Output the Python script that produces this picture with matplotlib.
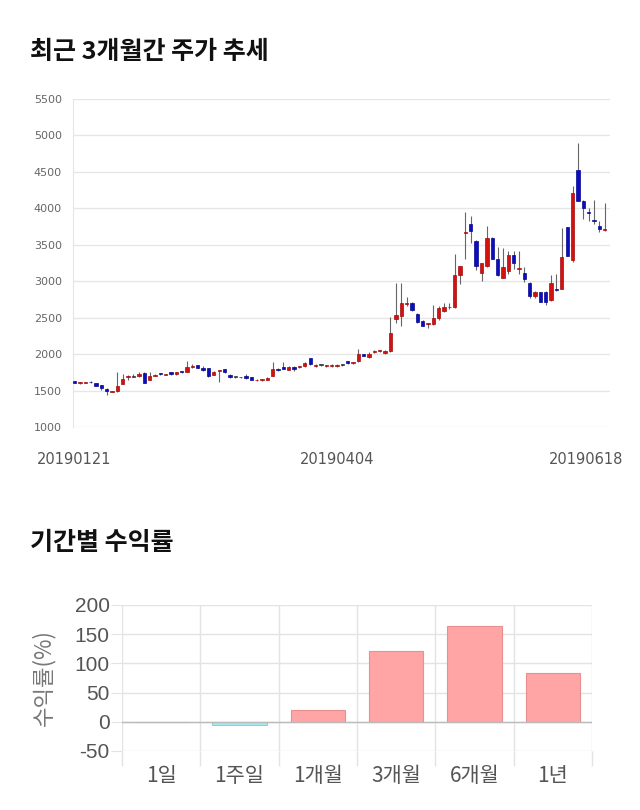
import matplotlib
matplotlib.use("Agg")
import matplotlib.pyplot as plt
import matplotlib.transforms as mtransforms
import numpy as np

plt.rcParams['font.family'] = ['Noto Sans CJK KR', 'DejaVu Sans']
plt.rcParams['axes.unicode_minus'] = False

# ---------------- data ----------------
dates_labels = ["20190121", "20190404", "20190618"]
label_idx = [0, 49, 99]

opens = [1625, 1600, 1610, 1622, 1600, 1575, 1525, 1480, 1490, 1590,
         1690, 1692, 1700, 1735, 1650, 1705, 1740, 1720, 1750, 1728,
         1765, 1760, 1820, 1845, 1810, 1810, 1720, 1775, 1790, 1720,
         1682, 1680, 1695, 1680, 1638, 1640, 1650, 1700, 1800, 1820,
         1785, 1822, 1828, 1835, 1945, 1840, 1850, 1838, 1840, 1840,
         1850, 1900, 1880, 1900, 1995, 1955, 2030, 2040, 2020, 2040,
         2485, 2520, 2690, 2705, 2555, 2450, 2410, 2415, 2500, 2590,
         2640, 2645, 3090, 3665, 3785, 3550, 3110, 3215, 3590, 3310,
         3050, 3140, 3360, 3165, 3110, 2980, 2795, 2850, 2850, 2740,
         2895, 2895, 3740, 3285, 4530, 4105, 3945, 3830, 3755, 3700]
highs = [1630, 1615, 1620, 1628, 1605, 1580, 1530, 1500, 1750, 1730,
         1720, 1730, 1760, 1750, 1750, 1730, 1745, 1730, 1755, 1760,
         1775, 1910, 1870, 1850, 1840, 1815, 1770, 1785, 1795, 1730,
         1690, 1690, 1730, 1685, 1660, 1660, 1690, 1890, 1810, 1890,
         1840, 1840, 1840, 1895, 1950, 1860, 1860, 1850, 1860, 1860,
         1865, 1905, 1890, 2070, 2000, 2030, 2050, 2060, 2050, 2510,
         2980, 2970, 2780, 2720, 2560, 2470, 2430, 2680, 2660, 2700,
         2700, 3380, 3210, 3955, 3900, 3560, 3250, 3760, 3600, 3470,
         3450, 3420, 3420, 3420, 3200, 2990, 2870, 2850, 2860, 3080,
         3100, 3735, 3750, 4300, 4900, 4110, 4000, 4110, 3830, 4070]
lows = [1600, 1590, 1600, 1605, 1560, 1510, 1440, 1475, 1485, 1585,
        1640, 1680, 1690, 1600, 1640, 1700, 1715, 1712, 1720, 1720,
        1740, 1755, 1815, 1805, 1770, 1690, 1715, 1620, 1740, 1675,
        1675, 1670, 1665, 1640, 1630, 1635, 1645, 1695, 1770, 1795,
        1780, 1770, 1815, 1820, 1850, 1830, 1840, 1820, 1820, 1825,
        1835, 1870, 1860, 1895, 1975, 1940, 2015, 2030, 2000, 2030,
        2430, 2390, 2660, 2590, 2420, 2380, 2360, 2400, 2470, 2580,
        2620, 2630, 2960, 3310, 3520, 3160, 3000, 3200, 3300, 3070,
        3040, 3100, 3170, 3100, 2990, 2770, 2770, 2710, 2680, 2730,
        2860, 2890, 3340, 3270, 4100, 3860, 3830, 3780, 3680, 3690]
closes = [1610, 1608, 1612, 1612, 1565, 1535, 1500, 1495, 1560, 1660,
          1692, 1692, 1730, 1610, 1695, 1718, 1722, 1722, 1728, 1752,
          1748, 1820, 1822, 1812, 1778, 1695, 1750, 1777, 1748, 1680,
          1682, 1680, 1670, 1650, 1640, 1655, 1675, 1800, 1778, 1800,
          1830, 1800, 1830, 1880, 1860, 1848, 1850, 1840, 1842, 1848,
          1850, 1880, 1882, 1995, 1980, 2005, 2032, 2042, 2040, 2290,
          2540, 2700, 2695, 2610, 2440, 2390, 2420, 2500, 2630, 2640,
          2645, 3090, 3205, 3670, 3695, 3205, 3245, 3590, 3310, 3080,
          3200, 3360, 3250, 3185, 3030, 2795, 2850, 2715, 2715, 2975,
          2875, 3330, 3350, 4210, 4105, 4000, 3940, 3825, 3720, 3710]

periods = ["1일", "1주일", "1개월", "3개월", "6개월", "1년"]
returns = [0, -6, 20, 122, 164, 83]

# ---------------- figure ----------------
fig = plt.figure(figsize=(6.4, 8.1), dpi=100)

fig.text(30/640, 1-52/810, "최근 3개월간 주가 추세", fontsize=18, fontweight='bold',
         color='#111111', va='center', ha='left')
fig.text(30/640, 1-543/810, "기간별 수익률", fontsize=18, fontweight='bold',
         color='#111111', va='center', ha='left')

# ---- candlestick axes ----
ax1 = fig.add_axes([73/640, 1-427/810, (610-73)/640, (427-99)/810])
x = np.arange(len(opens))
o = np.array(opens, float); c = np.array(closes, float)
h = np.array(highs, float); l = np.array(lows, float)
up = c > o
down = c < o
colors = np.where(up, '#d41010', np.where(down, '#0c0cc0', '#333333'))
edges = np.where(up, '#a00c0c', np.where(down, '#06068c', '#333333'))
ax1.vlines(x, l, h, color='#666666', linewidth=0.8, zorder=2)
bottom = np.minimum(o, c)
height = np.maximum(np.abs(c - o), 12)
ax1.bar(x, height, bottom=bottom, width=0.62, color=colors, edgecolor=edges,
        linewidth=0.5, zorder=3)
ax1.set_xlim(-0.3, 100.0)
ax1.set_ylim(1000, 5500)
ax1.set_yticks(np.arange(1000, 5501, 500))
ax1.grid(axis='y', color='#e6e6e6', linewidth=1)
ax1.set_axisbelow(True)
for s in ['top', 'right', 'bottom']:
    ax1.spines[s].set_visible(False)
ax1.spines['left'].set_color('#e6e6e6')
ax1.tick_params(axis='y', length=0, labelsize=8, labelcolor='#666666', pad=8)
ax1.set_xticks(label_idx)
ax1.set_xticklabels(dates_labels, fontsize=10.5, color='#555555')
ax1.tick_params(axis='x', length=0, pad=18)
for lab in ax1.get_yticklabels():
    lab.set_family(['DejaVu Sans'])
xl = ax1.get_xticklabels()
for lab in xl:
    lab.set_family(['DejaVu Sans'])
off = mtransforms.ScaledTranslation(-19/100, 0, fig.dpi_scale_trans)
xl[-1].set_transform(xl[-1].get_transform() + off)

# ---- returns bar axes ----
ax2 = fig.add_axes([122/640, 1-751/810, (592-122)/640, (751-605)/810])
xb = np.arange(len(periods))
bcol = ['#ffa5a5' if v >= 0 else '#a8e6f2' for v in returns]
becol = ['#e89090' if v >= 0 else '#90d0e0' for v in returns]
ax2.bar(xb, returns, width=0.69, color=bcol, edgecolor=becol, linewidth=0.8, zorder=3)
ax2.set_xlim(-0.5, 5.5)
ax2.set_ylim(-50, 200)
ax2.set_yticks([-50, 0, 50, 100, 150, 200])
ax2.set_xticks(xb)
ax2.set_xticklabels(periods, fontsize=15, color='#555555')
ax2.set_xticks(np.arange(-0.5, 6.0, 1.0), minor=True)
ax2.tick_params(axis='x', which='major', length=0, pad=10)
ax2.tick_params(axis='x', which='minor', length=11, color='#e3e3e3', width=1)
ax2.tick_params(axis='y', length=8, color='#e3e3e3', labelsize=15,
                labelcolor='#555555', pad=1)
for lab in ax2.get_yticklabels():
    lab.set_family(['Liberation Sans', 'DejaVu Sans'])
ax2.grid(axis='y', color='#e3e3e3', linewidth=1, zorder=0)
ax2.grid(axis='x', which='minor', color='#e3e3e3', linewidth=1, zorder=0)
ax2.axhline(0, color='#bbbbbb', linewidth=1, zorder=4)
for s in ['top', 'right', 'left', 'bottom']:
    ax2.spines[s].set_visible(False)
ax2.set_axisbelow(True)
ax2.set_ylabel("수익률(%)", fontsize=16, color='#777777', labelpad=14)

fig.savefig("out.png", dpi=100, facecolor='white')
